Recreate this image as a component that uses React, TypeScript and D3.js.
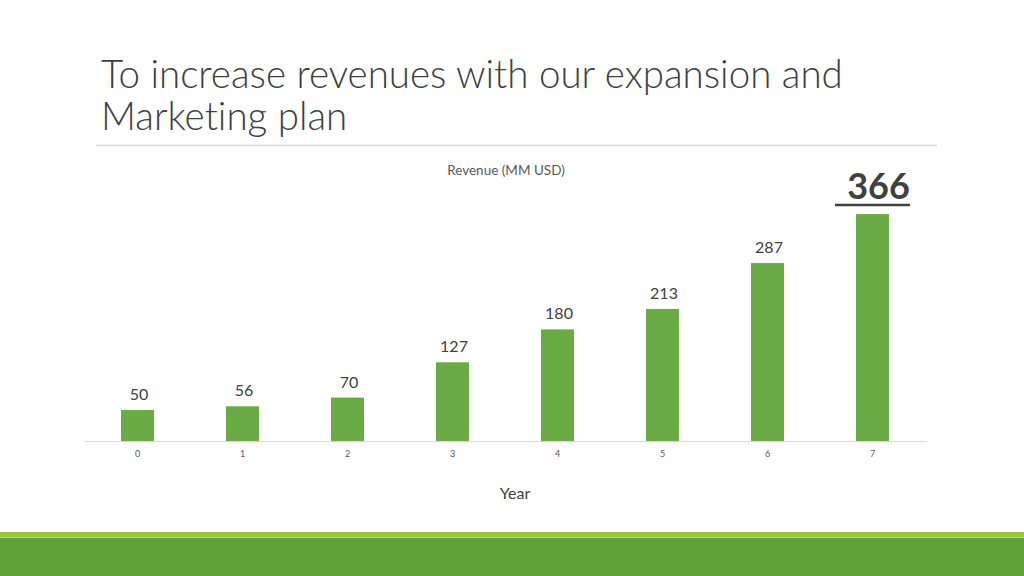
import React from "react";
import * as d3 from "d3";

const years = ["0", "1", "2", "3", "4", "5", "6", "7"];
const revenue = [50, 56, 70, 127, 180, 213, 287, 366];
const titleLines = ["To increase revenues with our expansion and", "Marketing plan"];
const chartTitle = "Revenue (MM USD)";
const xTitle = "Year";

const W = 1024;
const H = 576;

export default function App() {
  const x = d3.scaleBand<string>().domain(years).range([85, 925]).paddingInner(0.686).paddingOuter(0.343);
  const y = d3.scaleLinear().domain([0, 400]).range([441, 193]);
  const last = revenue.length - 1;
  const font = "Lato, 'Open Sans', sans-serif";
  const noLig = { fontVariantLigatures: "none" } as React.CSSProperties;

  return (
    <svg width={W} height={H} style={{ position: "fixed", left: 0, top: 0, background: "#fff" }}>
      <rect x={0} y={0} width={W} height={H} fill="#ffffff" />
      {titleLines.map((t, i) => (
        <text key={i} x={101} y={88 + i * 42} fontFamily={font} fontWeight={300} fontSize={38.5} fill="#404040" style={noLig}>
          {t}
        </text>
      ))}
      <line x1={96} x2={937} y1={145.5} y2={145.5} stroke="#d9d9d9" strokeWidth={1.5} />
      <text x={506} y={175} textAnchor="middle" fontFamily={font} fontSize={13.5} fill="#595959">
        {chartTitle}
      </text>
      <line x1={85} x2={927} y1={441.5} y2={441.5} stroke="#d9d9d9" strokeWidth={1} />
      {revenue.map((v, i) => (
        <rect key={i} x={x(years[i])} y={y(v)} width={x.bandwidth()} height={y(0) - y(v)} fill="#6aab46" />
      ))}
      {revenue.map((v, i) =>
        i === last ? null : (
          <text key={"l" + i} x={(x(years[i]) as number) + x.bandwidth() / 2 + 1.5} y={y(v) - 10}
            textAnchor="middle" fontFamily={font} fontSize={16} fill="#404040">
            {v}
          </text>
        )
      )}
      <text x={(x(years[last]) as number) + x.bandwidth() / 2 + 6} y={199} textAnchor="middle"
        fontFamily={font} fontWeight={700} fontSize={36} fill="#404040">
        {revenue[last]}
      </text>
      <line x1={835} x2={910} y1={205} y2={205} stroke="#404040" strokeWidth={2.5} />
      {years.map((c, i) => (
        <text key={"t" + i} x={(x(c) as number) + x.bandwidth() / 2} y={457} textAnchor="middle"
          fontFamily={font} fontSize={9} fill="#595959">
          {c}
        </text>
      ))}
      <text x={515} y={499} textAnchor="middle" fontFamily={font} fontSize={16} fill="#404040">
        {xTitle}
      </text>
      <rect x={0} y={532} width={W} height={6} fill="#9ac53e" />
      <rect x={0} y={537} width={W} height={1} fill="#b9d97a" />
      <rect x={0} y={538} width={W} height={38} fill="#5fa237" />
    </svg>
  );
}
